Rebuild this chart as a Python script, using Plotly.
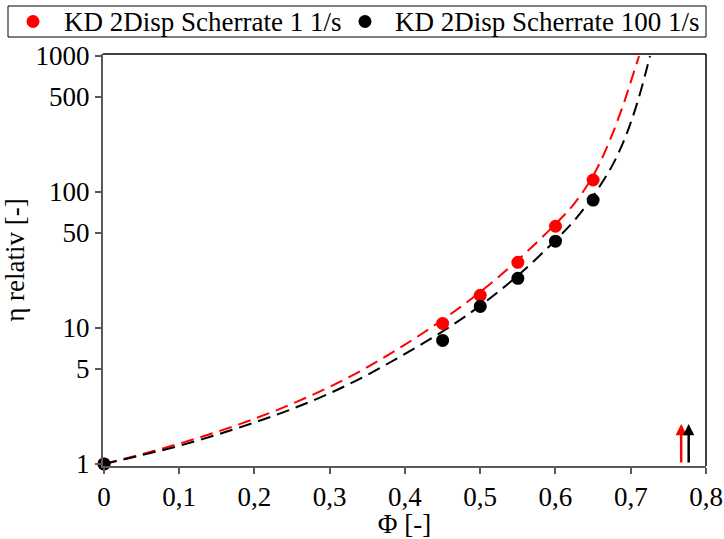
import numpy as np
import plotly.graph_objects as go

# measured data points
phi_pts = [0, 0.45, 0.5, 0.55, 0.6, 0.65]
eta_1 = [1.0, 10.8, 17.4, 30.4, 56.0, 122.6]
eta_100 = [1.0, 8.1, 14.4, 23.2, 43.5, 87.3]

# fitted (dashed) curves
phi_fit_1 = [0, 0.05, 0.1, 0.15, 0.2, 0.25, 0.3, 0.35, 0.4, 0.45, 0.5, 0.55, 0.6, 0.625, 0.65, 0.67, 0.69, 0.70, 0.711]
eta_fit_1 = [1.0, 1.18, 1.41, 1.72, 2.15, 2.77, 3.69, 5.15, 7.55, 11.5, 18.4, 31.6, 58.2, 82.2, 131.8, 224, 437, 646, 1000]
phi_fit_100 = [0, 0.05, 0.1, 0.15, 0.2, 0.25, 0.3, 0.35, 0.4, 0.45, 0.5, 0.55, 0.6, 0.625, 0.65, 0.675, 0.69, 0.70, 0.71, 0.72, 0.7256]
eta_fit_100 = [1.0, 1.16, 1.36, 1.64, 2.02, 2.54, 3.31, 4.52, 6.46, 9.44, 14.6, 24.3, 44.2, 61.7, 93.3, 155, 232, 324, 479, 759, 1000]

# max packing fractions (arrows)
phi_max = [0.767, 0.777]
arrow_bottom = 1.0
arrow_top = 1.97

names = ["KD 2Disp Scherrate 1 1/s", "KD 2Disp Scherrate 100 1/s"]
colors = ["#ff0000", "#000000"]

x_ticks = [0, 0.1, 0.2, 0.3, 0.4, 0.5, 0.6, 0.7, 0.8]
x_ticklabels = ["0", "0,1", "0,2", "0,3", "0,4", "0,5", "0,6", "0,7", "0,8"]
y_ticks = [1, 5, 10, 50, 100, 500, 1000]
y_ticklabels = ["1", "5", "10", "50", "100", "500", "1000"]

FONT = "Liberation Serif"
FS = 27
W, H = 724, 539
ML, MR, MT, MB = 103, 18, 54, 73
PW, PH = W - ML - MR, H - MT - MB


def px_x(p):
    return (p - ML) / PW


def px_y(p):
    return (H - MB - p) / PH


fig = go.Figure()

for px_, py_, c in [(phi_fit_1, eta_fit_1, colors[0]), (phi_fit_100, eta_fit_100, colors[1])]:
    fig.add_trace(go.Scatter(x=px_, y=py_, mode="lines", line=dict(color=c, width=2, dash="13px,7px", shape="spline"),
                             showlegend=False, hoverinfo="skip"))

for ys, c, n in [(eta_1, colors[0], names[0]), (eta_100, colors[1], names[1])]:
    fig.add_trace(go.Scatter(x=phi_pts, y=ys, mode="markers", name=n, showlegend=False,
                             marker=dict(color=c, size=13, line=dict(width=0)), cliponaxis=False))

for pm, c in zip(phi_max, colors):
    fig.add_annotation(x=pm, y=np.log10(arrow_top), ax=pm, ay=np.log10(arrow_bottom),
                       xref="x", yref="y", axref="x", ayref="y", text="", showarrow=True,
                       arrowhead=2, arrowsize=0.9, arrowwidth=2.5, arrowcolor=c, standoff=0)

axis_gray = "#5a5a5a"
fig.update_xaxes(range=[-0.0013, 0.8], tickvals=x_ticks, ticktext=x_ticklabels, ticks="outside", ticklen=6,
                 tickwidth=1.5, tickcolor=axis_gray, showline=True, linecolor=axis_gray, linewidth=2,
                 showgrid=False, zeroline=False, tickfont=dict(family=FONT, size=FS, color="black"),
                 title=dict(text="Φ [-]", font=dict(family=FONT, size=FS, color="black"), standoff=0))
fig.update_yaxes(type="log", range=[-0.015, 3.015], tickvals=y_ticks, ticktext=y_ticklabels, ticks="outside",
                 ticklen=6, tickwidth=1.5, tickcolor=axis_gray, showline=True, linecolor=axis_gray, linewidth=2,
                 showgrid=False, zeroline=False, tickfont=dict(family=FONT, size=FS, color="black"),
                 title=dict(text="η relativ [-]", font=dict(family=FONT, size=FS, color="black"), standoff=8))

# thin black frame on top and right
fig.add_shape(type="line", xref="paper", yref="paper", x0=0, x1=1, y0=1, y1=1, line=dict(color="black", width=1.5))
fig.add_shape(type="line", xref="paper", yref="paper", x0=1, x1=1, y0=0, y1=1, line=dict(color="black", width=1.5))

# legend box drawn by hand
fig.add_shape(type="rect", xref="paper", yref="paper", x0=px_x(8), x1=px_x(706), y0=px_y(37), y1=px_y(6),
              line=dict(color="black", width=1), fillcolor="white", layer="above")
leg_y = px_y(21.5)
for mx, tx, c, n in [(33, 62, colors[0], names[0]), (365, 393, colors[1], names[1])]:
    fig.add_shape(type="circle", xref="paper", yref="paper", xsizemode="pixel", ysizemode="pixel",
                  xanchor=px_x(mx), yanchor=leg_y, x0=-6.5, x1=6.5, y0=-6.5, y1=6.5,
                  fillcolor=c, line=dict(width=0), layer="above")
    fig.add_annotation(xref="paper", yref="paper", x=px_x(tx), y=leg_y, xanchor="left", yanchor="middle",
                       text=n, showarrow=False, font=dict(family=FONT, size=FS, color="black"))

fig.update_layout(
    width=W, height=H, plot_bgcolor="white", paper_bgcolor="white",
    margin=dict(l=ML, r=MR, t=MT, b=MB, autoexpand=False),
    font=dict(family=FONT, size=FS, color="black"),
    showlegend=False,
)

fig.write_html("out.html", config={"displayModeBar": False},
               post_script="document.body.style.margin='0';document.body.style.overflow='hidden';")
